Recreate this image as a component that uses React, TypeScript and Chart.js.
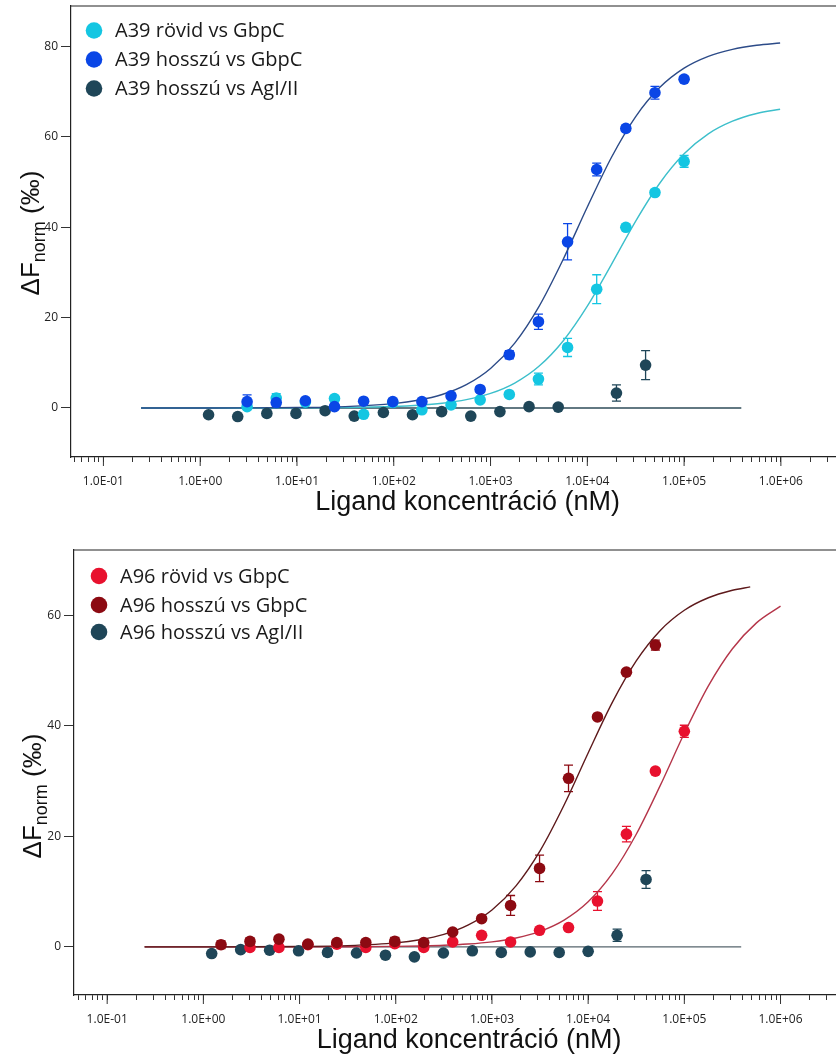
import React, { useEffect, useRef } from 'react';
import { Chart, registerables } from 'chart.js';

Chart.register(...registerables);

// ---------- DATA ----------
// Concentrations (nM), serial 1:2 dilutions
const CONC_A = [1.2207, 2.4414, 4.8828, 9.7656, 19.531, 39.063, 78.125, 156.25, 312.5, 625, 1250, 2500, 5000, 10000, 20000, 40000];
const CONC_B = [3.0518, 6.1035, 12.207, 24.414, 48.828, 97.656, 195.31, 390.63, 781.25, 1562.5, 3125, 6250, 12500, 25000, 50000, 100000];
const CONC_C = [1.5259, 3.0518, 6.1035, 12.207, 24.414, 48.828, 97.656, 195.31, 390.63, 781.25, 1562.5, 3125, 6250, 12500, 25000, 50000];

// Top panel (A39)
const A39_ROVID_GBPC = [0.3, 2.2, 1.3, 2.1, -1.4, 1.2, -0.4, 0.7, 1.8, 3.0, 6.4, 13.4, 26.3, 40.0, 47.7, 54.6];
const A39_ROVID_GBPC_ERR = [0.5, 1.0, 0.5, 0.5, 0.4, 0.4, 0.4, 0.4, 0.4, 0.5, 1.3, 2.0, 3.2, 0.5, 0.6, 1.3];
const A39_HOSSZU_GBPC = [1.4, 1.2, 1.6, 0.3, 1.5, 1.4, 1.4, 2.7, 4.1, 11.8, 19.1, 36.8, 52.8, 61.9, 69.8, 72.8];
const A39_HOSSZU_GBPC_ERR = [1.5, 0.8, 0.6, 0.4, 0.5, 0.5, 0.5, 0.6, 0.6, 0.9, 1.7, 4.0, 1.4, 0.6, 1.4, 0.6];
const A39_HOSSZU_AGI = [-1.5, -1.9, -1.2, -1.2, -0.6, -1.8, -1.0, -1.5, -0.8, -1.8, -0.8, 0.3, 0.2, null, 3.3, 9.5];
const A39_HOSSZU_AGI_ERR = [0.3, 0.3, 0.3, 0.3, 0.3, 0.3, 0.3, 0.3, 0.3, 0.3, 0.3, 0.3, 0.3, 0, 1.8, 3.2];

// Bottom panel (A96)
const A96_ROVID_GBPC = [-0.1, -0.1, 0.4, 0.5, -0.1, 0.6, -0.1, 0.9, 2.1, 0.9, 3.0, 3.5, 8.3, 20.4, 31.8, 39.0];
const A96_ROVID_GBPC_ERR = [0.3, 0.3, 0.3, 0.3, 0.3, 0.3, 0.3, 0.3, 0.3, 0.3, 0.3, 0.4, 1.7, 1.4, 0.5, 1.1];
const A96_HOSSZU_GBPC = [0.4, 1.0, 1.4, 0.5, 0.8, 0.8, 1.0, 0.8, 2.7, 5.1, 7.5, 14.2, 30.5, 41.6, 49.7, 54.6];
const A96_HOSSZU_GBPC_ERR = [0.7, 0.6, 0.5, 0.4, 0.4, 0.4, 0.7, 0.5, 0.4, 0.4, 1.8, 2.4, 2.4, 0.4, 0.4, 0.9];
const A96_HOSSZU_AGI = [-1.2, -0.5, -0.6, -0.7, -1.0, -1.1, -1.5, -1.8, -1.1, -0.7, -1.0, -0.9, -1.0, -0.8, 2.1, 12.2];
const A96_HOSSZU_AGI_ERR = [0.3, 0.3, 0.3, 0.3, 0.6, 0.3, 0.3, 0.3, 0.3, 0.3, 0.3, 0.3, 0.3, 0.3, 1.1, 1.6];

// Fitted curves (x in nM)
const FIT_X_TOP = [0.245, 1, 3.162, 10, 31.62, 100, 177.8, 316.2, 562.3, 1000, 1778, 3162, 5623, 10000, 17783, 31623, 56234, 100000, 177828, 316228, 562341, 982000];
const FIT_A39_HOSSZU = [0, 0.01, 0.03, 0.1, 0.31, 0.97, 1.71, 2.99, 5.16, 8.75, 14.36, 22.45, 32.88, 44.49, 55.52, 64.53, 71.0, 75.24, 77.86, 79.41, 80.31, 80.81];
const FIT_A39_ROVID = [0, 0, 0.01, 0.03, 0.11, 0.34, 0.6, 1.05, 1.85, 3.22, 5.52, 9.23, 14.84, 22.54, 31.81, 41.39, 49.82, 56.27, 60.69, 63.49, 65.19, 66.15];
const FIT_X_A96_HOSSZU = [0.245, 1, 3.162, 10, 31.62, 100, 177.8, 316.2, 562.3, 1000, 1778, 3162, 5623, 10000, 17783, 31623, 56234, 100000, 177828, 316228, 484000];
const FIT_A96_HOSSZU = [0, 0.01, 0.02, 0.08, 0.24, 0.73, 1.3, 2.27, 3.94, 6.69, 11.04, 17.37, 25.66, 35.08, 44.19, 51.74, 57.25, 60.9, 63.16, 64.51, 65.13];
const FIT_X_A96_ROVID = [0.245, 1, 3.162, 10, 31.62, 100, 177.8, 316.2, 562.3, 1000, 1778, 3162, 5623, 10000, 17783, 31623, 56234, 100000, 177828, 316228, 562341, 1000000];
const FIT_A96_ROVID = [0, 0, 0, 0.01, 0.03, 0.09, 0.17, 0.29, 0.52, 0.92, 1.62, 2.82, 4.86, 8.17, 13.25, 20.38, 29.22, 38.64, 47.21, 53.93, 58.62, 61.64];
const FIT_X_BASELINE = [0.245, 390000];
const FIT_BASELINE = [0, 0];

const Y_TICKS_TOP = [0, 20, 40, 60, 80];
const Y_TICKS_BOTTOM = [0, 20, 40, 60];
const X_TITLE = 'Ligand koncentráció (nM)';

// ---------- HELPERS ----------
const pts = (xs: number[], ys: (number | null)[], errs?: number[]) =>
  xs
    .map((x, i) => ({ x, y: ys[i], err: errs ? errs[i] : 0 }))
    .filter((p) => p.y !== null && p.y !== undefined);

const fmtExp = (v: number) => {
  const e = Math.round(Math.log10(v));
  const sign = e < 0 ? '-' : '+';
  const a = Math.abs(e);
  return '1.0E' + sign + (a < 10 ? '0' : '') + a;
};

const isDecade = (v: number) => {
  const m = v / Math.pow(10, Math.floor(Math.log10(v) + 1e-9));
  return Math.abs(m - 1) < 1e-6;
};

const TICK_FONT = '"Open Sans", "Noto Sans", sans-serif';
const TITLE_FONT = '"Liberation Sans", Arial, sans-serif';

type Series = { label: string; color: string; xs: number[]; ys: (number | null)[]; errs: number[] };
type Fit = { color: string; xs: number[]; ys: number[] };
type Panel = {
  width: number;
  height: number;
  top: number;
  yAxisWidth: number;
  padTop: number;
  xAxisHeight: number;
  xMin: number;
  xMax: number;
  yMin: number;
  yMax: number;
  yTicks: number[];
  series: Series[];
  fits: Fit[];
  legendX: number;
  legendY: number[];
  yTitleX: number;
  yTitleY: number;
  titlePadBottom: number;
};

const PANELS: Panel[] = [
  {
    width: 870,
    height: 520,
    top: 0,
    yAxisWidth: 71,
    padTop: 6,
    xAxisHeight: 63,
    xMin: 0.04624,
    xMax: 7.26e6,
    yMin: -10.85,
    yMax: 89.0,
    yTicks: Y_TICKS_TOP,
    series: [
      { label: 'A39 hosszú vs GbpC', color: '#0a46e6', xs: CONC_B, ys: A39_HOSSZU_GBPC, errs: A39_HOSSZU_GBPC_ERR },
      { label: 'A39 rövid vs GbpC', color: '#14c6e2', xs: CONC_B, ys: A39_ROVID_GBPC, errs: A39_ROVID_GBPC_ERR },
      { label: 'A39 hosszú vs AgI/II', color: '#1f4658', xs: CONC_A, ys: A39_HOSSZU_AGI, errs: A39_HOSSZU_AGI_ERR },
    ],
    fits: [
      { color: '#2c4b88', xs: FIT_X_TOP, ys: FIT_A39_HOSSZU },
      { color: '#3dbfcb', xs: FIT_X_TOP, ys: FIT_A39_ROVID },
      { color: '#2e4b59', xs: FIT_X_BASELINE, ys: FIT_BASELINE },
    ],
    legendX: 94,
    legendY: [30.5, 59.5, 88.5],
    yTitleX: 30,
    yTitleY: 233,
    titlePadBottom: 1,
  },
  {
    width: 870,
    height: 529,
    top: 528,
    yAxisWidth: 74,
    padTop: 22,
    xAxisHeight: 62,
    xMin: 0.04519,
    xMax: 7.41e6,
    yMin: -8.7,
    yMax: 71.8,
    yTicks: Y_TICKS_BOTTOM,
    series: [
      { label: 'A96 hosszú vs GbpC', color: '#8c0a12', xs: CONC_C, ys: A96_HOSSZU_GBPC, errs: A96_HOSSZU_GBPC_ERR },
      { label: 'A96 rövid vs GbpC', color: '#e8112e', xs: CONC_B, ys: A96_ROVID_GBPC, errs: A96_ROVID_GBPC_ERR },
      { label: 'A96 hosszú vs AgI/II', color: '#1f4658', xs: CONC_A, ys: A96_HOSSZU_AGI, errs: A96_HOSSZU_AGI_ERR },
    ],
    fits: [
      { color: '#5e1a1c', xs: FIT_X_A96_HOSSZU, ys: FIT_A96_HOSSZU },
      { color: '#b5364a', xs: FIT_X_A96_ROVID, ys: FIT_A96_ROVID },
      { color: '#56656d', xs: FIT_X_BASELINE, ys: FIT_BASELINE },
    ],
    legendX: 99,
    legendY: [48, 77, 104],
    yTitleX: 32,
    yTitleY: 268,
    titlePadBottom: 0,
  },
];

// legend display order (as in the reference)
const LEGEND_ORDER = [1, 0, 2];

function ChartPanel({ panel }: { panel: Panel }) {
  const ref = useRef<HTMLCanvasElement | null>(null);

  useEffect(() => {
    if (!ref.current) return;

    const pointSets = panel.series.map((s, i) => ({
      type: 'scatter' as const,
      label: s.label,
      data: pts(s.xs, s.ys, s.errs),
      backgroundColor: s.color,
      borderColor: s.color,
      pointRadius: 5.8,
      pointBorderWidth: 0,
      showLine: false,
      order: i + 1,
      isPoints: true,
    }));
    const fitSets = panel.fits.map((f) => ({
      type: 'scatter' as const,
      label: '',
      data: pts(f.xs, f.ys),
      borderColor: f.color,
      backgroundColor: f.color,
      borderWidth: 1.4,
      pointRadius: 0,
      showLine: true,
      cubicInterpolationMode: 'monotone' as const,
      order: 10,
    }));

    const errorBars = {
      id: 'errorBars',
      beforeDatasetsDraw(chart: any) {
        const ctx = chart.ctx;
        const ys = chart.scales.y;
        chart.data.datasets.forEach((ds: any, i: number) => {
          if (!ds.isPoints) return;
          const meta = chart.getDatasetMeta(i);
          ctx.save();
          ctx.strokeStyle = ds.backgroundColor;
          ctx.lineWidth = 1.3;
          meta.data.forEach((el: any, j: number) => {
            const p = ds.data[j];
            if (!p.err) return;
            const x = el.x;
            const y1 = ys.getPixelForValue(p.y + p.err);
            const y2 = ys.getPixelForValue(p.y - p.err);
            ctx.beginPath();
            ctx.moveTo(x, y1);
            ctx.lineTo(x, y2);
            ctx.moveTo(x - 4.5, y1);
            ctx.lineTo(x + 4.5, y1);
            ctx.moveTo(x - 4.5, y2);
            ctx.lineTo(x + 4.5, y2);
            ctx.stroke();
          });
          ctx.restore();
        });
      },
    };

    const decor = {
      id: 'decor',
      afterDraw(chart: any) {
        const ctx = chart.ctx;
        const ca = chart.chartArea;
        ctx.save();
        // top frame line
        ctx.strokeStyle = '#222';
        ctx.lineWidth = 1.2;
        ctx.beginPath();
        ctx.moveTo(ca.left, ca.top);
        ctx.lineTo(ca.right, ca.top);
        ctx.stroke();
        // longer major x ticks
        const xs = chart.scales.x;
        ctx.lineWidth = 1;
        ctx.strokeStyle = '#333';
        xs.ticks.forEach((t: any) => {
          if (isDecade(t.value)) {
            const px = xs.getPixelForValue(t.value);
            ctx.beginPath();
            ctx.moveTo(px, ca.bottom);
            ctx.lineTo(px, ca.bottom + 9);
            ctx.stroke();
          }
        });
        // legend
        LEGEND_ORDER.forEach((si, row) => {
          const s = panel.series[si];
          const y = panel.legendY[row];
          ctx.fillStyle = s.color;
          ctx.beginPath();
          ctx.arc(panel.legendX, y, 8.3, 0, Math.PI * 2);
          ctx.fill();
          ctx.fillStyle = '#1a1a1a';
          ctx.font = '20px ' + TICK_FONT;
          ctx.textBaseline = 'middle';
          ctx.textAlign = 'left';
          ctx.fillText(s.label, panel.legendX + 21, y + 1);
        });
        // y title with subscript
        ctx.translate(panel.yTitleX, panel.yTitleY);
        ctx.rotate(-Math.PI / 2);
        ctx.fillStyle = '#111';
        ctx.textBaseline = 'alphabetic';
        ctx.textAlign = 'left';
        const big = '26px ' + TITLE_FONT;
        const small = '18px ' + TITLE_FONT;
        ctx.font = big;
        const w1 = ctx.measureText('ΔF').width;
        const w3 = ctx.measureText(' (‰)').width;
        ctx.font = small;
        const w2 = ctx.measureText('norm').width;
        const start = -(w1 + w2 + w3) / 2;
        ctx.font = big;
        ctx.fillText('ΔF', start, 9);
        ctx.font = small;
        ctx.fillText('norm', start + w1, 15);
        ctx.font = big;
        ctx.fillText(' (‰)', start + w1 + w2, 9);
        ctx.restore();
      },
    };

    const chart = new Chart(ref.current, {
      type: 'scatter',
      data: { datasets: [...pointSets, ...fitSets] as any },
      options: {
        responsive: false,
        animation: false,
        devicePixelRatio: 1,
        layout: { padding: { top: panel.padTop, right: 4, left: 0, bottom: 0 } },
        plugins: { legend: { display: false }, tooltip: { enabled: false } },
        scales: {
          x: {
            type: 'logarithmic',
            min: panel.xMin,
            max: panel.xMax,
            afterBuildTicks(scale: any) {
              const ticks: any[] = [];
              for (let e = -2; e <= 7; e++) {
                for (let m = 1; m <= 9; m++) {
                  const v = m * Math.pow(10, e);
                  if (v >= panel.xMin && v <= panel.xMax) ticks.push({ value: v, major: m === 1 });
                }
              }
              scale.ticks = ticks;
            },
            afterFit(scale: any) {
              scale.height = panel.xAxisHeight;
              scale.paddingLeft = 0;
              scale.paddingRight = 0;
            },
            grid: { drawOnChartArea: false, drawTicks: true, tickLength: 5, color: '#333' },
            border: { display: true, color: '#222', width: 1.2 },
            ticks: {
              autoSkip: false,
              maxRotation: 0,
              minRotation: 0,
              padding: 12,
              color: '#222',
              font: { family: TICK_FONT, size: 12 },
              callback: (v: any) => (isDecade(Number(v)) ? fmtExp(Number(v)) : ''),
            },
            title: {
              display: true,
              text: X_TITLE,
              color: '#111',
              font: { family: TITLE_FONT, size: 27 },
              padding: { top: 0, bottom: panel.titlePadBottom },
            },
          },
          y: {
            type: 'linear',
            min: panel.yMin,
            max: panel.yMax,
            afterBuildTicks(scale: any) {
              scale.ticks = panel.yTicks.map((v) => ({ value: v }));
            },
            afterFit(scale: any) {
              scale.width = panel.yAxisWidth;
              scale.paddingTop = 0;
              scale.paddingBottom = 0;
            },
            grid: { drawOnChartArea: false, drawTicks: true, tickLength: 10, color: '#333' },
            border: { display: true, color: '#222', width: 1.2 },
            ticks: {
              padding: 3,
              color: '#222',
              font: { family: TICK_FONT, size: 12 },
              callback: (v: any) => String(v),
            },
          },
        },
      } as any,
      plugins: [errorBars, decor],
    });
    return () => chart.destroy();
  }, [panel]);

  return (
    <canvas
      ref={ref}
      width={panel.width}
      height={panel.height}
      style={{ position: 'absolute', left: 0, top: panel.top, display: 'block' }}
    />
  );
}

export default function App() {
  return (
    <div
      style={{
        position: 'absolute',
        left: 0,
        top: 0,
        width: 836,
        height: 1057,
        overflow: 'hidden',
        background: '#fff',
      }}
    >
      {PANELS.map((p, i) => (
        <ChartPanel key={i} panel={p} />
      ))}
    </div>
  );
}
